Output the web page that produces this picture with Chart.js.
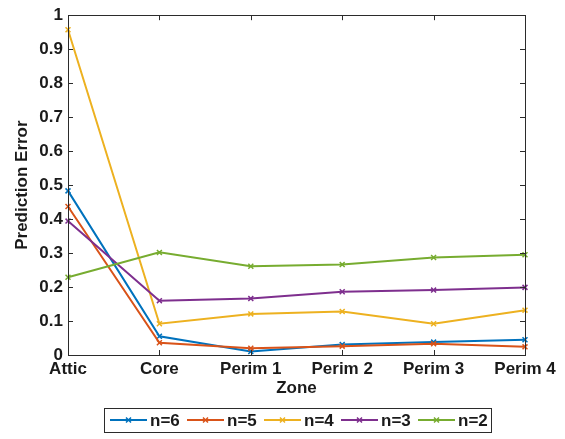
<!DOCTYPE html>
<html>
<head>
<meta charset="utf-8">
<script src="https://cdn.jsdelivr.net/npm/chart.js@4"></script>
<style>
  html, body { margin: 0; padding: 0; background: #fff; }
  #wrap { width: 565px; height: 439px; position: relative; }
</style>
</head>
<body>
<div id="wrap"><canvas id="errChart"></canvas></div>
<script>
const zones = ['Attic', 'Core', 'Perim 1', 'Perim 2', 'Perim 3', 'Perim 4'];

const seriesNames = ['n=6', 'n=5', 'n=4', 'n=3', 'n=2'];
const seriesColors = ['#0072BD', '#D95319', '#EDB120', '#7E2F8E', '#77AC30'];

const errN6 = [0.483, 0.055, 0.010, 0.031, 0.038, 0.045];
const errN5 = [0.437, 0.036, 0.020, 0.026, 0.033, 0.024];
const errN4 = [0.957, 0.092, 0.121, 0.128, 0.092, 0.132];
const errN3 = [0.394, 0.160, 0.166, 0.186, 0.191, 0.199];
const errN2 = [0.229, 0.302, 0.261, 0.266, 0.287, 0.295];

const yTicks = [0, 0.1, 0.2, 0.3, 0.4, 0.5, 0.6, 0.7, 0.8, 0.9, 1];

const seriesValues = [errN6, errN5, errN4, errN3, errN2];

const axisColor = '#2b2b2b';
const labelFont = { family: 'Liberation Sans, Arial, sans-serif', size: 17, weight: 'bold' };

// box around the plot area with inward tick marks on all four sides
const boxPlugin = {
    id: 'box',
    afterDatasetsDraw(chart) {
        const { ctx, chartArea: a, scales: { x, y } } = chart;
        ctx.save();
        ctx.strokeStyle = axisColor;
        ctx.lineWidth = 1;
        ctx.strokeRect(Math.round(a.left) + 0.5, Math.round(a.top) + 0.5,
            Math.round(a.right - a.left), Math.round(a.bottom - a.top));
        ctx.beginPath();
        const len = 5;
        yTicks.forEach(v => {
            const py = Math.round(y.getPixelForValue(v)) + 0.5;
            ctx.moveTo(a.left, py); ctx.lineTo(a.left + len, py);
            ctx.moveTo(a.right, py); ctx.lineTo(a.right - len, py);
        });
        zones.forEach((z, i) => {
            const px = Math.round(x.getPixelForValue(i)) + 0.5;
            ctx.moveTo(px, a.bottom); ctx.lineTo(px, a.bottom - len);
            ctx.moveTo(px, a.top); ctx.lineTo(px, a.top + len);
        });
        ctx.stroke();
        ctx.restore();
    }
};

// boxed legend drawn in one row under the axis title
const legendBoxPlugin = {
    id: 'legendBox',
    afterDraw(chart) {
        const { ctx, chartArea: a } = chart;
        const sampleW = 37, gapText = 3, textW = 30, gapItem = 7;
        const itemW = sampleW + gapText + textW + gapItem;
        const total = seriesNames.length * itemW - gapItem;
        const cx = (a.left + a.right) / 2 + 2;
        const startX = Math.round(cx - total / 2);
        const midY = 420;
        ctx.save();
        ctx.strokeStyle = axisColor;
        ctx.lineWidth = 1;
        ctx.strokeRect(startX - 5.5, 408.5, total + 9, 24);
        ctx.font = 'bold 17px "Liberation Sans", Arial, sans-serif';
        ctx.textBaseline = 'middle';
        ctx.fillStyle = '#1a1a1a';
        chart.data.datasets.forEach((ds, i) => {
            const x0 = startX + i * itemW;
            ctx.strokeStyle = ds.borderColor;
            ctx.lineWidth = 2;
            ctx.beginPath();
            ctx.moveTo(x0, midY); ctx.lineTo(x0 + sampleW, midY);
            ctx.stroke();
            ctx.lineWidth = 1.5;
            const mx = x0 + sampleW / 2, r = 2.5;
            ctx.beginPath();
            ctx.moveTo(mx - r, midY - r); ctx.lineTo(mx + r, midY + r);
            ctx.moveTo(mx - r, midY + r); ctx.lineTo(mx + r, midY - r);
            ctx.stroke();
            ctx.fillText(ds.label, x0 + sampleW + gapText, midY + 1);
        });
        ctx.restore();
    }
};

const chart = new Chart(document.getElementById('errChart'), {
    type: 'line',
    data: {
        labels: zones,
        datasets: seriesNames.map((name, i) => ({
            label: name,
            data: seriesValues[i],
            borderColor: seriesColors[i],
            backgroundColor: seriesColors[i],
            borderWidth: 2,
            pointStyle: 'crossRot',
            pointRadius: 3.5,
            pointBorderWidth: 1.5,
            tension: 0,
            order: seriesNames.length - i
        }))
    },
    options: {
        responsive: true,
        maintainAspectRatio: false,
        animation: false,
        layout: { padding: { left: 12, top: 10, right: 40, bottom: 40 } },
        plugins: {
            legend: { display: false },
            tooltip: { enabled: false }
        },
        scales: {
            x: {
                type: 'category',
                offset: false,
                grid: { display: false, drawTicks: false },
                border: { display: false },
                ticks: { color: '#1a1a1a', font: labelFont, padding: 4, maxRotation: 0, autoSkip: false },
                title: { display: true, text: 'Zone', color: '#1a1a1a', font: labelFont, padding: 0 },
                afterFit: s => { s.height = 44; }
            },
            y: {
                min: 0,
                max: 1,
                afterBuildTicks: s => { s.ticks = yTicks.map(v => ({ value: v })); },
                grid: { display: false, drawTicks: false },
                border: { display: false },
                ticks: {
                    color: '#1a1a1a',
                    font: labelFont,
                    padding: 5,
                    callback: v => (v === 0 || v === 1) ? String(v) : v.toFixed(1)
                },
                title: { display: true, text: 'Prediction Error', color: '#1a1a1a', font: labelFont, padding: 0 },
                afterFit: s => { s.width = 56; }
            }
        }
    },
    plugins: [boxPlugin, legendBoxPlugin]
});
</script>
</body>
</html>
